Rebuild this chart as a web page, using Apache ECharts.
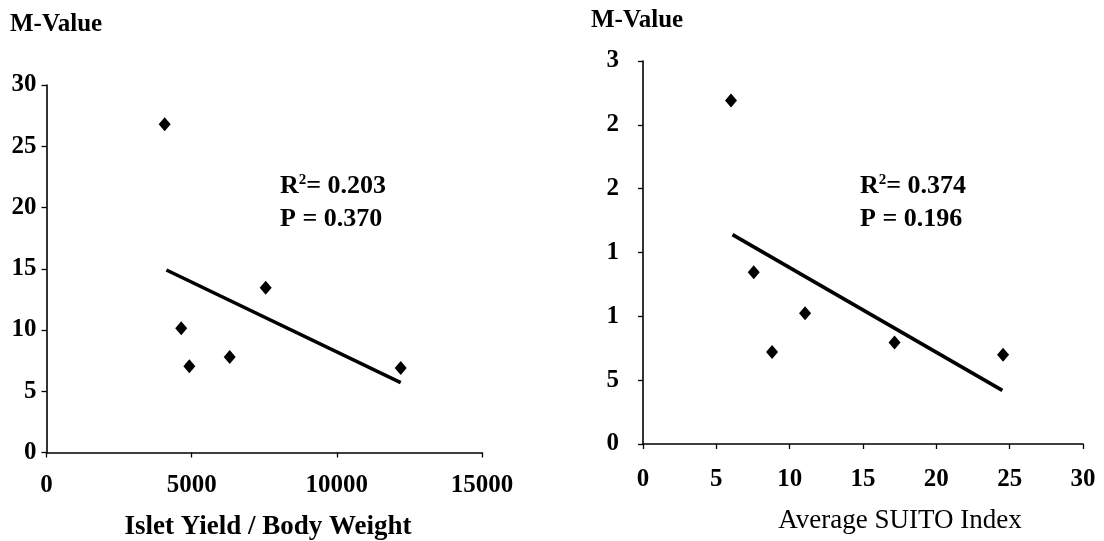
<!DOCTYPE html>
<html>
<head>
<meta charset="UTF-8">
<title>M-Value scatter</title>
<style>
body { margin: 0; padding: 0; background: #fff; }
#main { width: 1104px; height: 541px; }
</style>
</head>
<body>
<div id="main"></div>
<script src="https://cdn.jsdelivr.net/npm/echarts@6/dist/echarts.min.js"></script>
<script>
// left panel: islet yield vs M-value
var yieldX = [4070, 4640, 4920, 6310, 7550, 12200];
var yieldM = [26.8, 10.15, 7.05, 7.8, 13.45, 6.9];
var yieldTrendX = [4130, 12200];
var yieldTrendY = [14.9, 5.7];

// right panel: SUITO index vs M-value
var suitoX = [6.0, 7.55, 8.8, 11.05, 17.15, 24.55];
var suitoM = [26.9, 13.45, 7.2, 10.25, 7.95, 7.0];
var suitoTrendX = [6.1, 24.5];
var suitoTrendY = [16.4, 4.2];

// tick labels as printed on the right y axis
var rightYLabels = ['0', '5', '1', '1', '2', '2', '3'];

var serif = '"Liberation Serif", "DejaVu Serif", serif';

function pairs(xs, ys) {
	var out = [];
	for (var i = 0; i < xs.length; i++) out.push([xs[i], ys[i]]);
	return out;
}

var axisLine = { show: true, lineStyle: { color: '#000', width: 1.6 } };
var axisTick = { show: true, length: 5, lineStyle: { color: '#000', width: 1.3 } };
function lbl(extra) {
	return Object.assign({ color: '#000', fontFamily: serif, fontWeight: 'bold', fontSize: 25 }, extra);
}
var sup = { s: { fontSize: 15, fontWeight: 'bold', fontFamily: serif, verticalAlign: 'top', padding: [0, 0, 10, 0] } };

var chart = echarts.init(document.getElementById('main'));
var option = {
	animation: false,
	backgroundColor: '#fff',
	grid: [
		{ left: 46.5, top: 85, width: 435.5, height: 367.5 },
		{ left: 643, top: 61, width: 440, height: 383 }
	],
	xAxis: [
		{
			gridIndex: 0, type: 'value', min: 0, max: 15000, interval: 5000,
			axisLine: axisLine, axisTick: axisTick, splitLine: { show: false },
			axisLabel: lbl({ margin: 21, formatter: function (v) { return String(v); } })
		},
		{
			gridIndex: 1, type: 'value', min: 0, max: 30, interval: 5,
			axisLine: axisLine, axisTick: axisTick, splitLine: { show: false },
			axisLabel: lbl({ margin: 23 })
		}
	],
	yAxis: [
		{
			gridIndex: 0, type: 'value', min: 0, max: 30, interval: 5,
			axisLine: axisLine, axisTick: axisTick, splitLine: { show: false },
			axisLabel: lbl({ margin: 10 })
		},
		{
			gridIndex: 1, type: 'value', min: 0, max: 30, interval: 5,
			axisLine: axisLine, axisTick: axisTick, splitLine: { show: false },
			axisLabel: lbl({ margin: 24, formatter: function (v) { return rightYLabels[Math.round(v / 5)]; } })
		}
	],
	series: [
		{
			type: 'scatter', xAxisIndex: 0, yAxisIndex: 0,
			symbol: 'diamond', symbolSize: [12, 14],
			itemStyle: { color: '#000', opacity: 1 },
			data: pairs(yieldX, yieldM)
		},
		{
			type: 'line', xAxisIndex: 0, yAxisIndex: 0,
			symbol: 'none', lineStyle: { color: '#000', width: 3.5 },
			data: pairs(yieldTrendX, yieldTrendY)
		},
		{
			type: 'scatter', xAxisIndex: 1, yAxisIndex: 1,
			symbol: 'diamond', symbolSize: [12, 14],
			itemStyle: { color: '#000', opacity: 1 },
			data: pairs(suitoX, suitoM)
		},
		{
			type: 'line', xAxisIndex: 1, yAxisIndex: 1,
			symbol: 'none', lineStyle: { color: '#000', width: 3.5 },
			data: pairs(suitoTrendX, suitoTrendY)
		}
	],
	graphic: [
		{ type: 'text', x: 10, y: 12, style: { text: 'M-Value', fill: '#000', font: 'bold 25px ' + serif } },
		{ type: 'text', x: 591, y: 8, style: { text: 'M-Value', fill: '#000', font: 'bold 25px ' + serif } },
		{ type: 'text', x: 280, y: 173, style: { text: 'R{s|2}= 0.203', fill: '#000', font: 'bold 26px ' + serif, rich: sup } },
		{ type: 'text', x: 280, y: 206, style: { text: 'P = 0.370', fill: '#000', font: 'bold 26px ' + serif } },
		{ type: 'text', x: 860, y: 173, style: { text: 'R{s|2}= 0.374', fill: '#000', font: 'bold 26px ' + serif, rich: sup } },
		{ type: 'text', x: 860, y: 206, style: { text: 'P = 0.196', fill: '#000', font: 'bold 26px ' + serif } },
		{ type: 'text', x: 268, y: 514, style: { text: 'Islet Yield / Body Weight', fill: '#000', font: 'bold 27px ' + serif, align: 'center', verticalAlign: 'top' } },
		{ type: 'text', x: 900, y: 507, style: { text: 'Average SUITO Index', fill: '#000', font: '27px ' + serif, align: 'center', verticalAlign: 'top' } }
	]
};
chart.setOption(option);
</script>
</body>
</html>
